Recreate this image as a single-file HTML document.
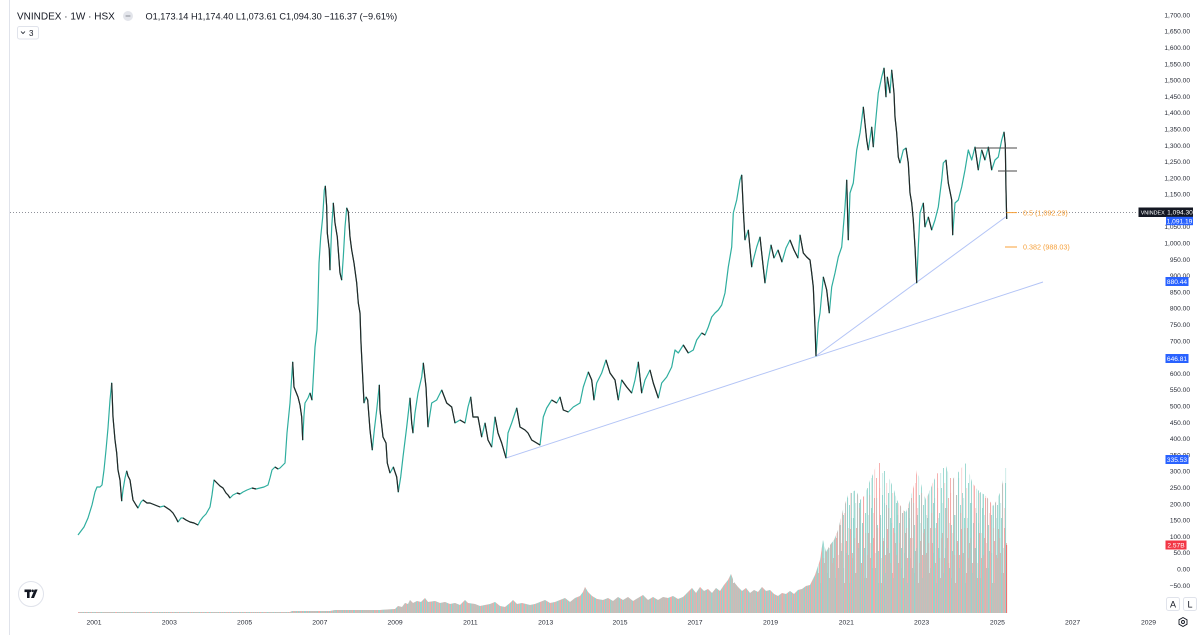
<!DOCTYPE html>
<html>
<head>
<meta charset="utf-8">
<style>
  html,body{margin:0;padding:0;background:#ffffff;}
  body{width:1200px;height:635px;overflow:hidden;font-family:"Liberation Sans",sans-serif;}
  svg{display:block;}
  text{font-family:"Liberation Sans",sans-serif;}
</style>
</head>
<body>
<svg width="1200" height="635" viewBox="0 0 1200 635" xmlns="http://www.w3.org/2000/svg">
  <defs>
    <pattern id="vb" x="0" y="413" width="37" height="200" patternUnits="userSpaceOnUse">
      <rect x="0" y="80" width="0.85" height="120" fill="#8ed3cb"/>
      <rect x="1" y="140" width="0.85" height="60" fill="#f5a3a1"/>
      <rect x="2" y="105" width="0.85" height="95" fill="#8ed3cb"/>
      <rect x="3" y="50" width="0.85" height="150" fill="#8ed3cb"/>
      <rect x="4" y="160" width="0.85" height="40" fill="#f5a3a1"/>
      <rect x="5" y="115" width="0.85" height="85" fill="#f5a3a1"/>
      <rect x="6" y="70" width="0.85" height="130" fill="#8ed3cb"/>
      <rect x="7" y="130" width="0.85" height="70" fill="#f5a3a1"/>
      <rect x="8" y="90" width="0.85" height="110" fill="#8ed3cb"/>
      <rect x="9" y="45" width="0.85" height="155" fill="#8ed3cb"/>
      <rect x="10" y="150" width="0.85" height="50" fill="#f5a3a1"/>
      <rect x="11" y="110" width="0.85" height="90" fill="#8ed3cb"/>
      <rect x="12" y="60" width="0.85" height="140" fill="#f5a3a1"/>
      <rect x="13" y="135" width="0.85" height="65" fill="#8ed3cb"/>
      <rect x="14" y="100" width="0.85" height="100" fill="#8ed3cb"/>
      <rect x="15" y="165" width="0.85" height="35" fill="#f5a3a1"/>
      <rect x="16" y="75" width="0.85" height="125" fill="#8ed3cb"/>
      <rect x="17" y="120" width="0.85" height="80" fill="#f5a3a1"/>
      <rect x="18" y="55" width="0.85" height="145" fill="#8ed3cb"/>
      <rect x="19" y="145" width="0.85" height="55" fill="#f5a3a1"/>
      <rect x="20" y="95" width="0.85" height="105" fill="#8ed3cb"/>
      <rect x="21" y="40" width="0.85" height="160" fill="#8ed3cb"/>
      <rect x="22" y="125" width="0.85" height="75" fill="#f5a3a1"/>
      <rect x="23" y="85" width="0.85" height="115" fill="#f5a3a1"/>
      <rect x="24" y="155" width="0.85" height="45" fill="#8ed3cb"/>
      <rect x="25" y="65" width="0.85" height="135" fill="#f5a3a1"/>
      <rect x="26" y="112" width="0.85" height="88" fill="#8ed3cb"/>
      <rect x="27" y="138" width="0.85" height="62" fill="#8ed3cb"/>
      <rect x="28" y="50" width="0.85" height="150" fill="#f5a3a1"/>
      <rect x="29" y="102" width="0.85" height="98" fill="#8ed3cb"/>
      <rect x="30" y="170" width="0.85" height="30" fill="#f5a3a1"/>
      <rect x="31" y="82" width="0.85" height="118" fill="#8ed3cb"/>
      <rect x="32" y="128" width="0.85" height="72" fill="#f5a3a1"/>
      <rect x="33" y="58" width="0.85" height="142" fill="#8ed3cb"/>
      <rect x="34" y="142" width="0.85" height="58" fill="#f5a3a1"/>
      <rect x="35" y="92" width="0.85" height="108" fill="#8ed3cb"/>
      <rect x="36" y="116" width="0.85" height="84" fill="#f5a3a1"/>
    </pattern>
    <pattern id="vb2" x="0.45" y="413" width="29" height="200" patternUnits="userSpaceOnUse">
      <rect x="0" y="130" width="0.6" height="70" fill="#f5a3a1"/>
      <rect x="1" y="65" width="0.6" height="135" fill="#8ed3cb"/>
      <rect x="2" y="155" width="0.6" height="45" fill="#8ed3cb"/>
      <rect x="3" y="100" width="0.6" height="100" fill="#f5a3a1"/>
      <rect x="4" y="50" width="0.6" height="150" fill="#f5a3a1"/>
      <rect x="5" y="140" width="0.6" height="60" fill="#8ed3cb"/>
      <rect x="6" y="85" width="0.6" height="115" fill="#8ed3cb"/>
      <rect x="7" y="115" width="0.6" height="85" fill="#f5a3a1"/>
      <rect x="8" y="170" width="0.6" height="30" fill="#8ed3cb"/>
      <rect x="9" y="75" width="0.6" height="125" fill="#f5a3a1"/>
      <rect x="10" y="105" width="0.6" height="95" fill="#8ed3cb"/>
      <rect x="11" y="145" width="0.6" height="55" fill="#f5a3a1"/>
      <rect x="12" y="60" width="0.6" height="140" fill="#8ed3cb"/>
      <rect x="13" y="125" width="0.6" height="75" fill="#f5a3a1"/>
      <rect x="14" y="90" width="0.6" height="110" fill="#8ed3cb"/>
      <rect x="15" y="160" width="0.6" height="40" fill="#8ed3cb"/>
      <rect x="16" y="70" width="0.6" height="130" fill="#f5a3a1"/>
      <rect x="17" y="135" width="0.6" height="65" fill="#8ed3cb"/>
      <rect x="18" y="95" width="0.6" height="105" fill="#f5a3a1"/>
      <rect x="19" y="55" width="0.6" height="145" fill="#8ed3cb"/>
      <rect x="20" y="150" width="0.6" height="50" fill="#f5a3a1"/>
      <rect x="21" y="110" width="0.6" height="90" fill="#8ed3cb"/>
      <rect x="22" y="80" width="0.6" height="120" fill="#f5a3a1"/>
      <rect x="23" y="165" width="0.6" height="35" fill="#8ed3cb"/>
      <rect x="24" y="120" width="0.6" height="80" fill="#f5a3a1"/>
      <rect x="25" y="62" width="0.6" height="138" fill="#8ed3cb"/>
      <rect x="26" y="142" width="0.6" height="58" fill="#f5a3a1"/>
      <rect x="27" y="102" width="0.6" height="98" fill="#8ed3cb"/>
      <rect x="28" y="82" width="0.6" height="118" fill="#f5a3a1"/>
    </pattern>
    <path id="vol" d="M78,613 L78,612 L290,612 L292,611 L330,611 L335,610 L380,610 L395,609 L398,606 L402,607 L405,603 L408,604 L410,600 L413,603 L417,601 L421,602 L425,598 L428,602 L435,601 L440,603 L445,602 L450,604 L455,603 L460,605 L465,600 L468,603 L475,604 L480,606 L485,605 L490,604 L495,602 L500,606 L505,607 L510,603 L513,600 L517,604 L522,603 L530,605 L535,604 L540,602 L545,600 L550,603 L555,602 L560,600 L565,598 L570,602 L575,598 L580,596 L583,592 L585,587 L588,592 L592,596 L597,599 L603,600 L608,598 L613,601 L618,597 L623,600 L628,597 L633,601 L638,598 L643,595 L648,600 L653,597 L658,600 L663,597 L668,598 L673,596 L678,599 L683,597 L688,592 L692,588 L696,593 L700,587 L704,591 L708,589 L712,593 L716,588 L720,591 L724,585 L728,580 L731,574 L734,582 L738,587 L742,591 L746,588 L750,593 L754,590 L758,592 L762,587 L766,591 L770,590 L774,594 L778,596 L782,593 L786,594 L790,591 L794,594 L798,590 L802,589 L806,586 L810,585 L815,575 L820,560 L823,540 L826,552 L830,545 L834,540 L838,530 L843,510 L848,495 L852,492 L856,490 L860,500 L865,495 L870,480 L874,472 L876,465 L879,460 L882,468 L886,470 L890,480 L894,490 L897,500 L900,505 L903,510 L906,512 L910,500 L914,485 L917,470 L920,480 L923,492 L926,500 L930,490 L934,480 L938,472 L941,466 L945,463 L948,472 L952,480 L956,475 L960,470 L963,466 L966,463 L969,472 L972,482 L976,488 L980,492 L985,495 L989,500 L993,506 L997,500 L1001,490 L1004,475 L1005,462 L1007,462 L1007,613 Z"/>
  </defs>

  <!-- left toolbar border -->
  <line x1="9.5" y1="0" x2="9.5" y2="635" stroke="#e0e3eb" stroke-width="1"/>

  <!-- volume -->
  <use href="#vol" fill="url(#vb)"/>
  <use href="#vol" fill="url(#vb2)" opacity="0.75"/>
  <line x1="1006.6" y1="545" x2="1006.6" y2="613" stroke="#f26a6a" stroke-width="1"/>

  <!-- trendlines -->
  <line x1="506" y1="458" x2="1043" y2="282" stroke="#b3c4f6" stroke-width="1"/>
  <line x1="816" y1="356" x2="1007" y2="216" stroke="#b3c4f6" stroke-width="1"/>

  <!-- last price dotted line -->
  <line x1="10" y1="212.4" x2="1138" y2="212.4" stroke="#6a6d78" stroke-width="0.8" stroke-dasharray="1,2"/>

  <!-- price line (up moves teal) -->
  <path fill="none" stroke="#2fae9f" stroke-width="1.2" stroke-linejoin="round" d="M78,535 L81,531 L84,527 L88,518 L92,505 L95,492 L97,487 L100,487 L102,485 L104,470 L106,450 L108,428 L110,400 L111.7,383 L113,417 L115,440 L116.7,453 L118,470 L120,480 L121.7,501 L123,490 L125,478 L126.7,471 L128,476 L130,480 L133,500 L136,505 L138,508 L141,502 L143,500 L147,503 L150,503 L155,505 L160,507 L164,506 L167,508 L170,510 L173,513 L176,518 L178,522 L181,518 L183,518 L186,520 L190,522 L194,523 L198,525 L200,521 L203,517 L206,514 L210,507 L212,495 L214,480 L217,483 L220,486 L223,488 L226,493 L228,495 L230,498 L233,495 L237,493 L240,494 L243,492 L247,490 L252,488 L256,489 L260,488 L264,487 L268,485 L270,478 L272,470 L275,467 L278,469 L280,468 L283,465 L285,463 L287,433 L290,403 L292.7,362 L294,387 L296,392 L298,397 L300,405 L301.7,417 L302.7,440 L304,415 L305,403 L308,398 L310,393 L312,400 L313,383 L315,347 L317,330 L318,303 L319,263 L320.7,237 L322.7,217 L324.3,190 L325.3,186 L326.7,207 L327.3,233 L329.3,250 L330,270 L331.7,227 L333.3,203 L335,223 L337.3,237 L340,273 L341.7,280 L343.3,257 L345,227 L346.7,208 L348.3,212 L350,237 L351.7,250 L354,263 L356.7,283 L358.3,303 L360,313 L361,343 L362.7,377 L364,403 L366,397 L367.7,400 L370,430 L372.3,450 L374.3,430 L376.7,410 L379.3,385 L380,410 L383,437 L386,443 L387.3,463 L390,473 L393.3,467 L396.7,477 L398.3,492 L400.7,477 L403,457 L406.7,427 L410,398 L411.7,423 L413,433 L415,413 L418,393 L421.7,377 L423.3,363 L426,387 L428,427 L431.7,403 L436.7,400 L441.7,390 L446.7,403 L451.7,407 L455,423 L460,420 L465,423 L468,407 L470.7,397 L473,417 L478,417 L481.7,437 L485,423 L488,440 L491.7,447 L495,417 L498,433 L501.7,443 L506,458 L508,433 L511.7,423 L516.7,408 L520,427 L525,430 L528,433 L531.7,440 L536.7,443 L540,445 L543.3,417 L546.7,408 L551.7,400 L556.7,403 L560,397 L563.3,410 L568.3,412 L573.3,407 L580,403 L583.3,387 L588.3,372 L591.7,380 L594,400 L596.7,383 L601.7,373 L606,360 L610,373 L615,380 L618.3,400 L621.7,380 L626.7,387 L631.7,393 L635,380 L638.3,362 L641.7,393 L645,380 L650,370 L653.3,383 L658.3,398 L661.7,383 L666.7,377 L671.7,367 L675,350 L678.3,353 L683.3,345 L688.3,353 L693.3,350 L696.7,340 L701.7,333 L705,335 L708.3,327 L711.7,317 L715,313 L718.3,310 L721.7,305 L725,293 L728.3,267 L731.7,247 L733.3,213 L736.7,200 L740,180 L741.7,175 L743.3,210 L745,240 L748.3,230 L751.7,267 L753.3,260 L756.7,247 L760,237 L763,265 L765,283 L768,262 L771,245 L774,258 L778,250 L782,262 L786,248 L790,240 L794,250 L798,258 L800,235 L803.3,253 L806.7,257 L810,260 L811.7,273 L813.3,287 L815,327 L816,356 L818.3,323 L820,313 L823.3,277 L826.7,290 L829.3,313 L831.7,287 L835,273 L838.3,257 L841.7,247 L845,207 L846.7,180 L848.3,240 L850,193 L853.3,183 L856.7,150 L860,133 L861.7,120 L863.3,107 L866.7,140 L868.3,150 L871.7,127 L873.3,147 L876.7,110 L878.3,93 L881.7,77 L884,68 L886,97 L887.3,77 L890,93 L891.7,70 L894,93 L895,117 L896.7,133 L898.3,157 L900,163 L903.3,150 L906,148 L908.3,163 L910,193 L911.7,203 L913.3,220 L915,247 L916.7,283 L918.3,247 L920,213 L923.3,203 L925,227 L928.3,217 L931.7,230 L935,220 L938.3,207 L941.7,180 L943.3,163 L946,160 L948.3,183 L951.7,200 L952.7,235 L955,203 L958.3,200 L961.7,187 L965,170 L968.3,150 L971.7,160 L975,147 L978.3,170 L981.7,150 L985,160 L988.3,147 L991.7,170 L995,160 L998.3,157 L1001.7,140 L1004,132 L1005.3,145 L1006,190 L1006.7,219"/>

  <!-- down moves dark -->
  <path fill="none" stroke="#262626" stroke-width="1.2" stroke-linejoin="round" d="M111.7,383 L113,417 L115,440 L116.7,453 L118,470 L120,480 L121.7,501 M126.7,471 L128,476 L130,480 L133,500 L136,505 L138,508 M143,500 L147,503 L150,503 L155,505 L160,507 M164,506 L167,508 L170,510 L173,513 L176,518 L178,522 M183,518 L186,520 L190,522 L194,523 L198,525 M214,480 L217,483 L220,486 L223,488 L226,493 L228,495 L230,498 M237,493 L240,494 M252,488 L256,489 M275,467 L278,469 M292.7,362 L294,387 L296,392 L298,397 L300,405 L301.7,417 L302.7,440 M310,393 L312,400 M325.3,186 L326.7,207 L327.3,233 L329.3,250 L330,270 M333.3,203 L335,223 L337.3,237 L340,273 L341.7,280 M346.7,208 L348.3,212 L350,237 L351.7,250 L354,263 L356.7,283 L358.3,303 L360,313 L361,343 L362.7,377 L364,403 M366,397 L367.7,400 L370,430 L372.3,450 M379.3,385 L380,410 L383,437 L386,443 L387.3,463 L390,473 M393.3,467 L396.7,477 L398.3,492 M410,398 L411.7,423 L413,433 M423.3,363 L426,387 L428,427 M441.7,390 L446.7,403 L451.7,407 L455,423 M460,420 L465,423 M470.7,397 L473,417 L478,417 L481.7,437 M485,423 L488,440 L491.7,447 M495,417 L498,433 L501.7,443 L506,458 M516.7,408 L520,427 L525,430 L528,433 L531.7,440 L536.7,443 L540,445 M551.7,400 L556.7,403 M560,397 L563.3,410 L568.3,412 M588.3,372 L591.7,380 L594,400 M606,360 L610,373 L615,380 L618.3,400 M621.7,380 L626.7,387 L631.7,393 M638.3,362 L641.7,393 M650,370 L653.3,383 L658.3,398 M683.3,345 L688.3,353 M701.7,333 L705,335 M741.7,175 L743.3,210 L745,240 M748.3,230 L751.7,267 M760,237 L763,265 L765,283 M771,245 L774,258 M778,250 L782,262 M790,240 L794,250 L798,258 M800,235 L803.3,253 L806.7,257 L810,260 L811.7,273 L813.3,287 L815,327 L816,356 M823.3,277 L826.7,290 L829.3,313 M846.7,180 L848.3,240 M863.3,107 L866.7,140 L868.3,150 M871.7,127 L873.3,147 M884,68 L886,97 M887.3,77 L890,93 M891.7,70 L894,93 L895,117 L896.7,133 L898.3,157 L900,163 M906,148 L908.3,163 L910,193 L911.7,203 L913.3,220 L915,247 L916.7,283 M923.3,203 L925,227 M928.3,217 L931.7,230 M946,160 L948.3,183 L951.7,200 L952.7,235 M975,147 L978.3,170 M981.7,150 L985,160 M988.3,147 L991.7,170 M1004,132 L1005.3,145 L1006,190 L1006.7,219"/>

  <!-- range drawing lines near 2025 -->
  <line x1="976" y1="148" x2="1017" y2="148" stroke="#4a4a4a" stroke-width="1"/>
  <line x1="998" y1="171" x2="1017" y2="171" stroke="#4a4a4a" stroke-width="1"/>

  <!-- fib levels -->
  <line x1="1006.5" y1="212.6" x2="1017" y2="212.6" stroke="#f8a13a" stroke-width="1"/>
  <text x="1023" y="215.3" font-size="7.2" fill="#f5a13d">0.5 (1,092.29)</text>
  <line x1="1005" y1="247" x2="1017" y2="247" stroke="#f8a13a" stroke-width="1"/>
  <text x="1023" y="249.7" font-size="7.2" fill="#f5a13d">0.382 (988.03)</text>

  <!-- price axis labels -->
  <g font-size="6.6" fill="#2a2e39" text-anchor="end">
    <text x="1190" y="17.4">1,700.00</text>
    <text x="1190" y="33.7">1,650.00</text>
    <text x="1190" y="50">1,600.00</text>
    <text x="1190" y="66.3">1,550.00</text>
    <text x="1190" y="82.6">1,500.00</text>
    <text x="1190" y="98.9">1,450.00</text>
    <text x="1190" y="115.2">1,400.00</text>
    <text x="1190" y="131.5">1,350.00</text>
    <text x="1190" y="147.8">1,300.00</text>
    <text x="1190" y="164.1">1,250.00</text>
    <text x="1190" y="180.4">1,200.00</text>
    <text x="1190" y="196.6">1,150.00</text>
    <text x="1190" y="229.2">1,050.00</text>
    <text x="1190" y="245.5">1,000.00</text>
    <text x="1190" y="261.8">950.00</text>
    <text x="1190" y="278.1">900.00</text>
    <text x="1190" y="294.4">850.00</text>
    <text x="1190" y="310.7">800.00</text>
    <text x="1190" y="327">750.00</text>
    <text x="1190" y="343.3">700.00</text>
    <text x="1190" y="375.9">600.00</text>
    <text x="1190" y="392.2">550.00</text>
    <text x="1190" y="408.5">500.00</text>
    <text x="1190" y="424.8">450.00</text>
    <text x="1190" y="441.1">400.00</text>
    <text x="1190" y="457.4">350.00</text>
    <text x="1190" y="473.7">300.00</text>
    <text x="1190" y="490">250.00</text>
    <text x="1190" y="506.3">200.00</text>
    <text x="1190" y="522.6">150.00</text>
    <text x="1190" y="538.9">100.00</text>
    <text x="1190" y="555.2">50.00</text>
    <text x="1190" y="571.5">0.00</text>
    <text x="1190" y="587.8">−50.00</text>
  </g>

  <!-- axis value boxes -->
  <rect x="1138.5" y="207.5" width="28.5" height="9.5" fill="#131722"/>
  <text x="1152.7" y="214.4" font-size="5.4" fill="#ffffff" text-anchor="middle">VNINDEX</text>
  <rect x="1167" y="207.5" width="26" height="9.5" fill="#131722"/>
  <text x="1180" y="214.6" font-size="6.6" fill="#ffffff" text-anchor="middle">1,094.30</text>
  <rect x="1166" y="216.8" width="27" height="8.4" fill="#2962ff"/>
  <text x="1179.5" y="223.3" font-size="6.6" fill="#ffffff" text-anchor="middle">1,091.19</text>
  <rect x="1165.5" y="277" width="23" height="9" fill="#2962ff"/>
  <text x="1177" y="283.8" font-size="6.6" fill="#ffffff" text-anchor="middle">880.44</text>
  <rect x="1165.5" y="354" width="23" height="9" fill="#2962ff"/>
  <text x="1177" y="360.8" font-size="6.6" fill="#ffffff" text-anchor="middle">646.81</text>
  <rect x="1165.5" y="455" width="23" height="9" fill="#2962ff"/>
  <text x="1177" y="461.8" font-size="6.6" fill="#ffffff" text-anchor="middle">335.53</text>
  <rect x="1165.5" y="540.5" width="21" height="9" fill="#f23645"/>
  <text x="1176" y="547.3" font-size="6.6" fill="#ffffff" text-anchor="middle">2.57B</text>

  <!-- time axis -->
  <g font-size="6.8" fill="#2a2e39" text-anchor="middle">
    <text x="94" y="624.5">2001</text>
    <text x="169.3" y="624.5">2003</text>
    <text x="244.6" y="624.5">2005</text>
    <text x="319.8" y="624.5">2007</text>
    <text x="395.1" y="624.5">2009</text>
    <text x="470.4" y="624.5">2011</text>
    <text x="545.7" y="624.5">2013</text>
    <text x="620" y="624.5">2015</text>
    <text x="695" y="624.5">2017</text>
    <text x="770.5" y="624.5">2019</text>
    <text x="846.3" y="624.5">2021</text>
    <text x="921.6" y="624.5">2023</text>
    <text x="997.4" y="624.5">2025</text>
    <text x="1072.6" y="624.5">2027</text>
    <text x="1148.5" y="624.5">2029</text>
  </g>

  <!-- A / L buttons & settings -->
  <rect x="1166.5" y="597.5" width="13" height="13" rx="2" fill="#ffffff" stroke="#e0e3eb"/>
  <text x="1173" y="607.6" font-size="9" fill="#131722" text-anchor="middle">A</text>
  <rect x="1183.5" y="597.5" width="13" height="13" rx="2" fill="#ffffff" stroke="#e0e3eb"/>
  <text x="1190" y="607.6" font-size="9" fill="#131722" text-anchor="middle">L</text>
  <polygon points="1183,617.5 1187,619.8 1187,624.2 1183,626.5 1179,624.2 1179,619.8" fill="none" stroke="#131722" stroke-width="0.9"/>
  <circle cx="1183" cy="622" r="1.5" fill="none" stroke="#131722" stroke-width="0.9"/>

  <!-- TradingView logo -->
  <circle cx="31" cy="594" r="12.5" fill="#ffffff" stroke="#e0e3eb" stroke-width="1"/>
  <rect x="24.5" y="589.5" width="6.5" height="2.6" fill="#131722"/>
  <rect x="27" y="589.5" width="2.6" height="8.5" fill="#131722"/>
  <circle cx="32.6" cy="590.8" r="1.3" fill="#131722"/>
  <polygon points="34.6,589.5 37.6,589.5 34,598 31,598" fill="#131722"/>

  <!-- header -->
  <text x="17" y="19.5" font-size="10" fill="#131722">VNINDEX · 1W · HSX</text>
  <circle cx="128" cy="16" r="5" fill="#e3e5eb"/>
  <line x1="125.6" y1="16" x2="130.4" y2="16" stroke="#8a8d96" stroke-width="1"/>
  <text x="145.5" y="19.5" font-size="9.2" fill="#131722">O1,173.14 H1,174.40 L1,073.61 C1,094.30 −116.37 (−9.61%)</text>
  <rect x="17.5" y="26.5" width="21" height="12.5" rx="2" fill="#ffffff" stroke="#e0e3eb"/>
  <polyline points="21,31.5 23,33.5 25,31.5" fill="none" stroke="#131722" stroke-width="0.8"/>
  <text x="29" y="36" font-size="8" fill="#131722">3</text>
</svg>
</body>
</html>
